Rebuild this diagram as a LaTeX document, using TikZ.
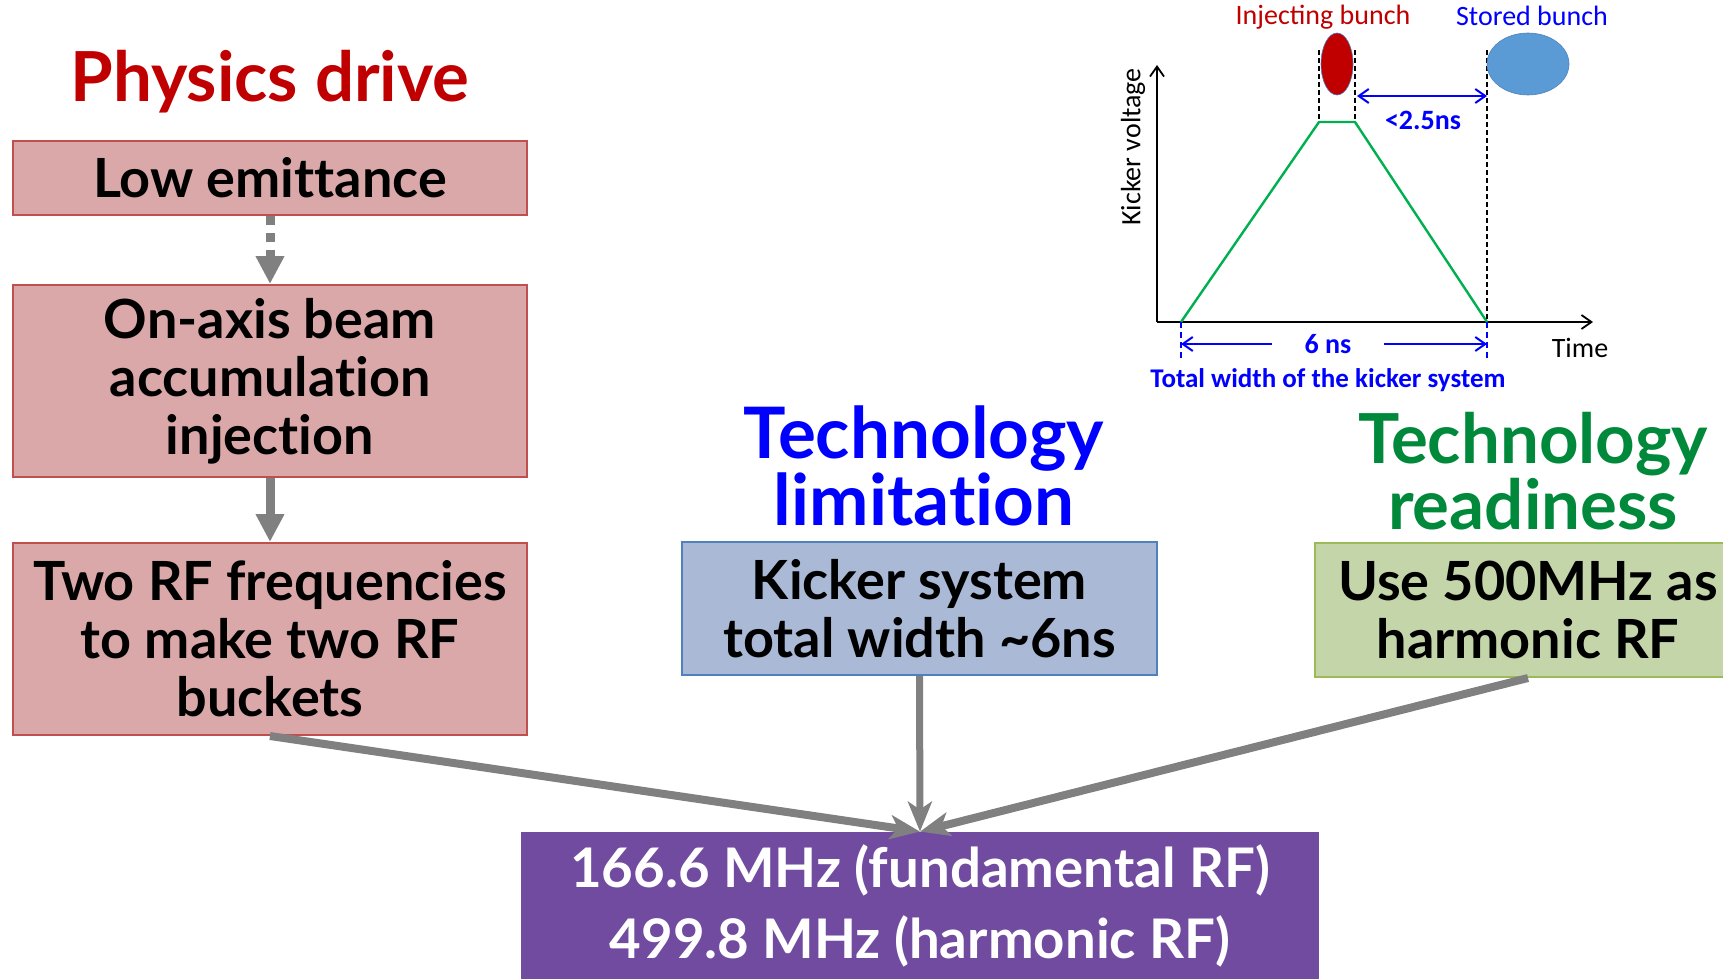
\documentclass[tikz,border=0pt]{standalone}
\usepackage{fontspec}
\setmainfont{Lato}[Ligatures={NoCommon,NoRequired},RawFeature={-liga;-dlig}]
\newfontfamily\chartfont{Carlito}
\usetikzlibrary{arrows.meta}

\definecolor{pinkfill}{RGB}{218,168,168}
\definecolor{pinkline}{RGB}{192,80,77}
\definecolor{bluefill}{RGB}{169,185,214}
\definecolor{blueline}{RGB}{79,129,189}
\definecolor{greenfill}{RGB}{196,214,169}
\definecolor{greenline}{RGB}{155,187,89}
\definecolor{purplefill}{RGB}{113,75,160}
\definecolor{titlered}{RGB}{192,0,0}
\definecolor{titleblue}{RGB}{0,0,255}
\definecolor{titlegreen}{RGB}{0,137,59}
\definecolor{arrowgray}{RGB}{128,128,128}
\definecolor{rampgreen}{RGB}{0,176,80}
\definecolor{bunchred}{RGB}{192,0,0}
\definecolor{bunchblue}{RGB}{91,155,213}

\begin{document}
\begin{tikzpicture}[x=0.5pt,y=-0.5pt,
    boxtext/.style={align=center,inner sep=0pt,line width=1pt,
      font=\bfseries\fontsize{27}{29}\selectfont},
    pinkbox/.style={boxtext,draw=pinkline,fill=pinkfill,minimum width=257pt},
    heading/.style={align=center,inner sep=0pt,
      font=\bfseries\fontsize{34.5}{31.5}\selectfont},
    flow/.style={draw=arrowgray,line width=4.5pt,-{Triangle[length=14pt,width=13.5pt]}},
    merge/.style={draw=arrowgray,line width=4pt,-{Stealth[length=15pt,width=12pt,inset=4pt]}},
    dim/.style={draw=titleblue,line width=1pt},
    chartlbl/.style={inner sep=0pt,font=\chartfont\fontsize{14}{16}\selectfont}]
    \useasboundingbox (0,0) rectangle (1723,979);
    \clip (0,0) rectangle (1723,979);

    % --- Physics drive (left column)
    \begin{scope}
      \node[heading,text=titlered] (physics) at (270,82) {Physics drive};
      \node[pinkbox,minimum height=37pt] (emit) at (270,178) {Low emittance};
      \node[pinkbox,minimum height=96pt] (onaxis) at (270,381)
        {On-axis beam\\accumulation\\injection};
      \node[pinkbox,minimum height=96pt] (buckets) at (270,639)
        {Two RF frequencies\\to make two RF\\buckets};

      \draw[flow,dash pattern=on 4.5pt off 4pt] (emit.south) -- (onaxis.north);
      \draw[flow] (onaxis.south) -- (buckets.north);
    \end{scope}

    % --- Technology limitation (middle)
    \begin{scope}
      \node[heading,text=titleblue,font=\bfseries\fontsize{35.5}{31.5}\selectfont]
        (limit) at (924,466) {Technology\\limitation};
      \node[boxtext,draw=blueline,fill=bluefill,minimum width=237.5pt,
        minimum height=66.5pt] (kicker) at (919.5,608.5)
        {Kicker system\\total width \textasciitilde 6ns};
    \end{scope}

    % --- Technology readiness (right)
    \begin{scope}
      \node[heading,text=titlegreen] (ready) at (1533,471) {Technology\\readiness};
      \node[boxtext,draw=greenline,fill=greenfill,minimum width=213pt,
        minimum height=67pt] (harmonic) at (1528,610)
        {Use 500MHz as\\harmonic RF};
    \end{scope}

    % --- Result
    \node[align=center,inner sep=0pt,fill=purplefill,text=white,
      minimum width=399pt,minimum height=74pt,
      font=\bfseries\fontsize{27.3}{35.5}\selectfont] (result) at (920,906)
      {166.6 MHz (fundamental RF)\\499.8 MHz (harmonic RF)};

    \draw[merge] (buckets.south) -- (result.north);
    \draw[merge,line width=3.5pt] (kicker.south) -- (result.north);
    \draw[merge] (harmonic.south) -- (result.north);

    % --- Kicker pulse sketch (top right)
    \begin{scope}
      \coordinate (origin) at (1157,322);
      \coordinate (vtop) at (1157,65);
      \coordinate (tend) at (1593,322);
      \coordinate (rise) at (1181,322);
      \coordinate (flatl) at (1319,122);
      \coordinate (flatr) at (1355,122);
      \coordinate (fall) at (1487,322);

      \draw[line width=0.9pt,-{Straight Barb[length=5pt,width=7pt]}] (origin) -- (vtop);
      \draw[line width=0.9pt,-{Straight Barb[length=5pt,width=7pt]}] (origin) -- (tend);
      \draw[rampgreen,line width=1.2pt] (rise) -- (flatl) -- (flatr) -- (fall);

      \draw[line width=1.2pt,dash pattern=on 2.5pt off 1.5pt] (1319,50) -- (flatl);
      \draw[line width=1.2pt,dash pattern=on 2.5pt off 1.5pt] (1355,50) -- (flatr);
      \draw[line width=1.2pt,dash pattern=on 2.5pt off 1.5pt] (1487,50) -- (fall);

      \filldraw[fill=bunchred,draw=blueline,line width=0.3pt] (1337,64) ellipse (16 and 31);
      \filldraw[fill=bunchblue,draw=blueline,line width=0.3pt] (1528,64) ellipse (41 and 31);

      \node[chartlbl,text=bunchred] (injlbl) at (1323,17) {Injecting bunch};
      \node[chartlbl,text=titleblue] (storlbl) at (1532,16) {Stored bunch};
      \node[chartlbl,rotate=90] (vlbl) at (1133,147) {Kicker voltage};
      \node[chartlbl] (tlbl) at (1580,348) {Time};

      \draw[dim,{Straight Barb[length=5pt,width=7pt]}-{Straight Barb[length=5pt,width=7pt]}]
        (1357,96) -- (1487,96);
      \node[chartlbl,text=titleblue,font=\chartfont\bfseries\fontsize{14}{16}\selectfont]
        (gaplbl) at (1423,120) {<2.5ns};

      \draw[dim,dash pattern=on 3pt off 2pt] (rise) -- (1181,361);
      \draw[dim,dash pattern=on 3pt off 2pt] (fall) -- (1487,361);
      \node[chartlbl,text=titleblue,font=\chartfont\bfseries\fontsize{14}{16}\selectfont]
        (widthlbl) at (1328,344) {6 ns};
      \draw[dim,-{Straight Barb[length=5pt,width=7pt]}] (1272,344) -- (1181,344);
      \draw[dim,-{Straight Barb[length=5pt,width=7pt]}] (1384,344) -- (1487,344);
      \node[chartlbl,text=titleblue,font=\chartfont\bfseries\fontsize{13.5}{15}\selectfont]
        (totlbl) at (1328,380) {Total width of the kicker system};
    \end{scope}
  \end{tikzpicture}
\end{document}
